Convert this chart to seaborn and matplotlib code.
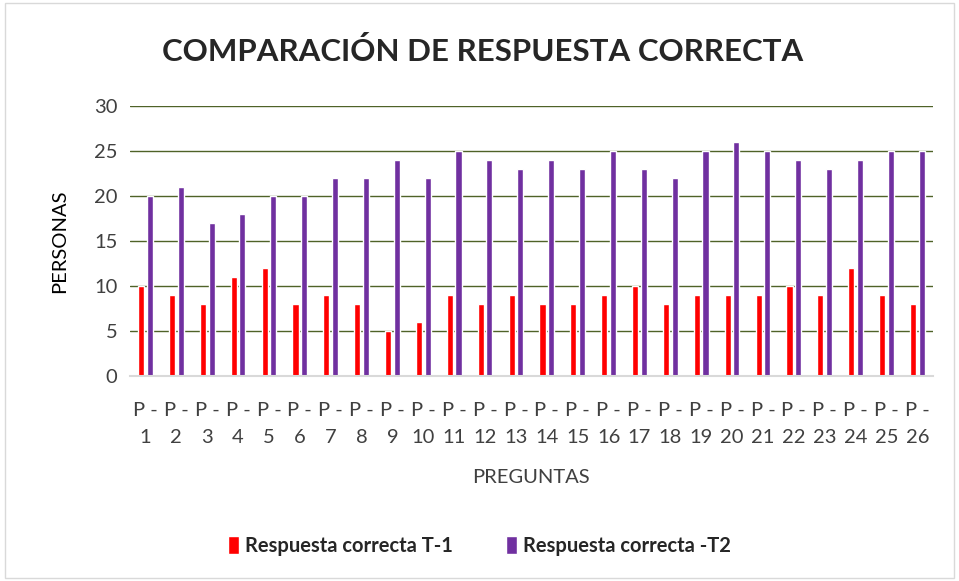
import pandas as pd
import matplotlib.pyplot as plt
import matplotlib.patches as mpatches
import seaborn as sns

# Data
preguntas = [f"P -\n{i}" for i in range(1, 27)]
t1 = [10, 9, 8, 11, 12, 8, 9, 8, 5, 6, 9, 8, 9, 8, 8, 9, 10, 8, 9, 9, 9, 10, 9, 12, 9, 8]
t2 = [20, 21, 17, 18, 20, 20, 22, 22, 24, 22, 25, 24, 23, 24, 23, 25, 23, 22, 25, 26, 25, 24, 23, 24, 25, 25]
series = ["Respuesta correcta T-1", "Respuesta correcta -T2"]
colors = ["#FF0000", "#7030A0"]

df = pd.DataFrame({
    "Pregunta": preguntas * 2,
    "Personas": t1 + t2,
    "Serie": [series[0]] * len(t1) + [series[1]] * len(t2),
})

sns.set_style("white")
plt.rcParams["font.family"] = ["Lato", "DejaVu Sans"]

fig = plt.figure(figsize=(9.59, 5.81), dpi=100)
ax = fig.add_axes([0.1356, 0.3528, 0.837, 0.4648])

sns.barplot(data=df, x="Pregunta", y="Personas", hue="Serie", palette=colors,
            saturation=1, width=0.56, gap=0.3, ax=ax, legend=True)

ax.set_ylim(0, 30)
ax.set_yticks(range(0, 31, 5))
ax.set_xlim(-0.5, 25.5)
ax.grid(axis="y", color="#4F6228", linewidth=1)
ax.set_axisbelow(True)
for s in ["top", "left", "right"]:
    ax.spines[s].set_visible(False)
ax.spines["bottom"].set_color("#D9D9D9")
ax.spines["bottom"].set_linewidth(1.5)
ax.tick_params(axis="both", length=0, labelsize=14.5, colors="#404040")
ax.tick_params(axis="y", pad=9)
ax.tick_params(axis="x", pad=19)
for lbl in ax.get_xticklabels():
    lbl.set_linespacing(1.65)

ax.set_xlabel("PREGUNTAS", fontsize=14.5, color="#404040")
ax.set_ylabel("PERSONAS", fontsize=14.5, color="#000000")
ax.xaxis.set_label_coords(0.5, -0.345)
ax.yaxis.set_label_coords(-0.077, 0.5)

fig.text(0.503, 0.912, "COMPARACIÓN DE RESPUESTA CORRECTA", ha="center", va="center",
         fontsize=22.5, fontweight="bold")

leg = ax.legend(loc="center", bbox_to_anchor=(0.5, 1 - 546 / 581), bbox_transform=fig.transFigure,
                ncol=2, frameon=False, fontsize=14.5, handlelength=0.55, handleheight=1.0,
                handletextpad=0.3, columnspacing=2.6)
for t in leg.get_texts():
    t.set_fontweight("bold")

fig.add_artist(mpatches.Rectangle((0.005, 0.005), 0.99, 0.99, transform=fig.transFigure,
                                  fill=False, edgecolor="#D9D9D9", linewidth=1))

fig.savefig("out.png", dpi=100)
